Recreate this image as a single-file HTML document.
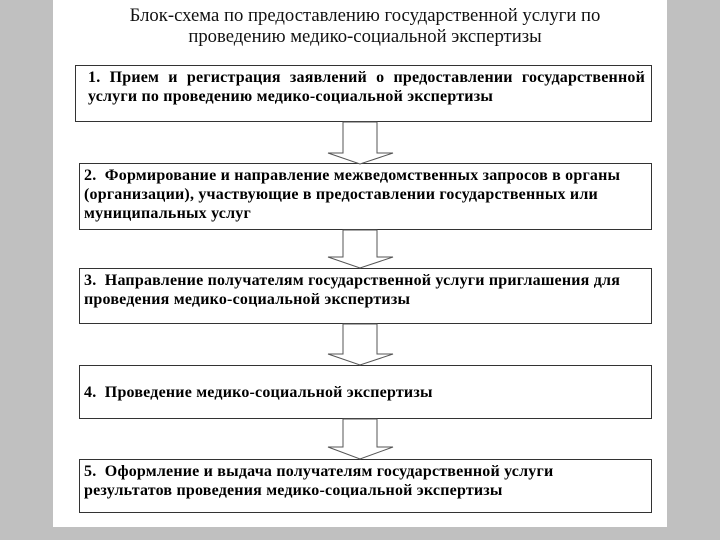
<!DOCTYPE html>
<html><head><meta charset="utf-8"><style>
body{margin:0;width:720px;height:540px;background:#c0c0c0;position:relative;overflow:hidden;font-family:"Liberation Serif","DejaVu Serif",serif}
.page{position:absolute;left:53px;top:0;width:614px;height:527px;background:#fff}
.t{position:absolute;left:53px;width:624px;text-align:center;font-size:18.7px;line-height:21px;top:5px;color:#111}
.b{position:absolute;border:1px solid #333;background:#fff;box-sizing:border-box;font-weight:bold;font-size:16px;line-height:19px;padding:2px 4px 0 4px;color:#000;white-space:nowrap;letter-spacing:0.2px}
.jl{text-align:justify;text-align-last:justify;white-space:normal}
svg{position:absolute;left:0;top:0}
</style></head><body>
<div class="page"></div>
<div class="t">Блок-схема по предоставлению государственной услуги по<br>проведению медико-социальной экспертизы</div>
<div class="b" style="left:75px;top:65px;width:577px;height:57px;padding-left:12px;padding-right:6px"><div class="jl">1. Прием и регистрация заявлений о предоставлении государственной</div>услуги по проведению медико-социальной экспертизы</div>
<div class="b" style="left:79px;top:163px;width:573px;height:67px">2.&nbsp; Формирование и направление межведомственных запросов в органы<br>(организации), участвующие в предоставлении государственных или<br>муниципальных услуг</div>
<div class="b" style="left:79px;top:268px;width:573px;height:56px">3.&nbsp; Направление получателям государственной услуги приглашения для<br>проведения медико-социальной экспертизы</div>
<div class="b" style="left:79px;top:365px;width:573px;height:54px;padding-top:17px">4.&nbsp; Проведение медико-социальной экспертизы</div>
<div class="b" style="left:79px;top:459px;width:573px;height:54px">5.&nbsp; Оформление и выдача получателям государственной услуги<br>результатов проведения медико-социальной экспертизы</div>
<svg width="720" height="540" fill="#fff" stroke="#555" stroke-width="1">
<polygon points="343,122 377,122 377,153 393,153 360,164 328,153 343,153"/>
<polygon points="343,230 377,230 377,257 393,257 360,268 328,257 343,257"/>
<polygon points="343,324 377,324 377,354 393,354 360,365 328,354 343,354"/>
<polygon points="343,419 377,419 377,447 393,447 360,459 328,447 343,447"/>
</svg>
</body></html>
